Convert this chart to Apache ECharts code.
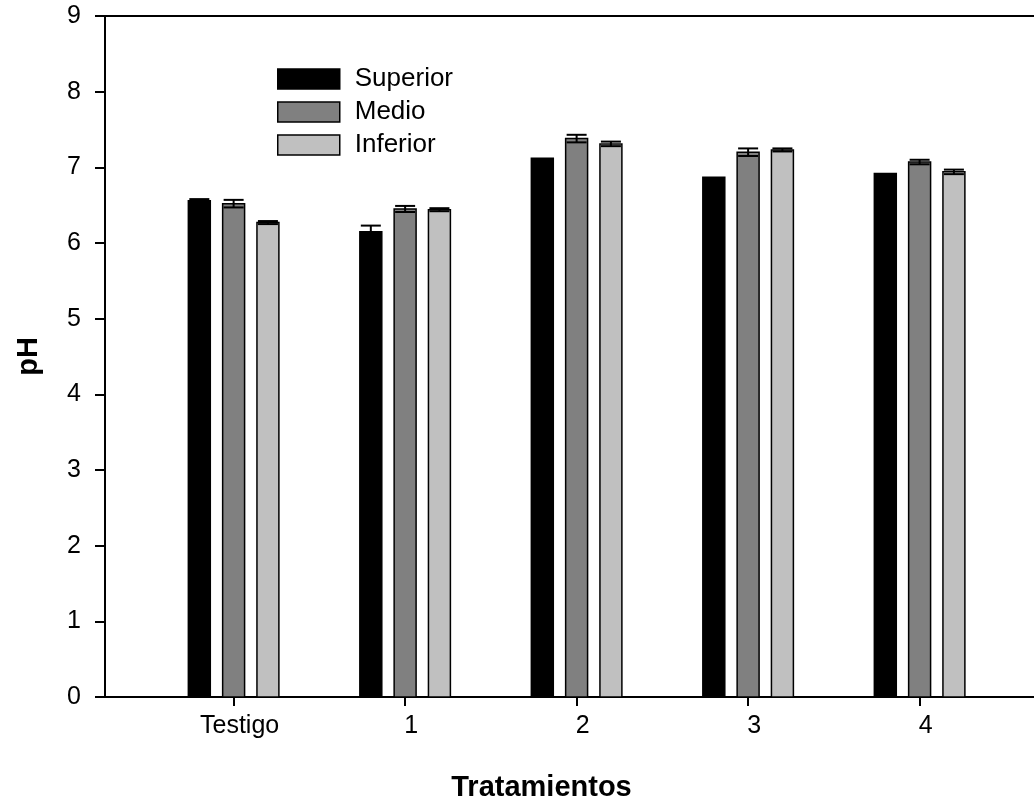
<!DOCTYPE html>
<html>
<head>
<meta charset="utf-8">
<script src="https://cdn.jsdelivr.net/npm/echarts@6/dist/echarts.min.js"></script>
<style>html,body{margin:0;padding:0;background:#fff}#c{width:1034px;height:807px}</style>
</head>
<body>
<div id="c"></div>
<script>
const categories = ['Testigo', '1', '2', '3', '4'];
const superior = [6.56, 6.15, 7.12, 6.87, 6.92];
const superiorErr = [0.02, 0.08, 0, 0, 0];
const medio = [6.52, 6.45, 7.38, 7.20, 7.07];
const medioErr = [0.05, 0.04, 0.05, 0.05, 0.03];
const inferior = [6.27, 6.44, 7.31, 7.23, 6.94];
const inferiorErr = [0.02, 0.02, 0.03, 0.02, 0.03];
const yTicks = [0, 1, 2, 3, 4, 5, 6, 7, 8, 9];

const FONT = 'Liberation Sans';
const BAR_W = 0.128;
const CAP_PX = 20;
const X_MIN = 0.25;
const X_MAX = 5.667;

function makeRender(offset) {
  return function (params, api) {
    const x = api.value(0) + offset;
    const v = api.value(1);
    const e = api.value(2);
    const top = api.coord([x, v]);
    const base = api.coord([x, 0]);
    const w = api.size([BAR_W, 0])[0];
    const style = api.style();
    const children = [{
      type: 'rect',
      shape: { x: top[0] - w / 2, y: top[1], width: w, height: base[1] - top[1] },
      style: { fill: style.fill, stroke: '#000', lineWidth: 1.5 }
    }];
    if (e > 0) {
      const hi = api.coord([x, v + e]);
      const lo = api.coord([x, v - e]);
      const ls = { stroke: '#000', lineWidth: 2 };
      children.push({ type: 'line', shape: { x1: hi[0], y1: hi[1], x2: lo[0], y2: lo[1] }, style: ls });
      children.push({ type: 'line', shape: { x1: hi[0] - CAP_PX / 2, y1: hi[1], x2: hi[0] + CAP_PX / 2, y2: hi[1] }, style: ls });
      children.push({ type: 'line', shape: { x1: lo[0] - CAP_PX / 2, y1: lo[1], x2: lo[0] + CAP_PX / 2, y2: lo[1] }, style: ls });
    }
    return { type: 'group', children };
  };
}

function seriesData(vals, errs) {
  return vals.map((v, i) => [i + 1, v, errs[i]]);
}

const chart = echarts.init(document.getElementById('c'));
chart.setOption({
  animation: false,
  backgroundColor: '#fff',
  textStyle: { fontFamily: FONT, color: '#000' },
  grid: { left: 105, top: 16, right: 0, height: 681 },
  legend: {
    orient: 'vertical',
    left: 277,
    top: 66,
    padding: 0,
    itemWidth: 62,
    itemHeight: 20,
    itemGap: 7,
    textStyle: { fontFamily: FONT, fontSize: 26, color: '#000', padding: [0, 0, 0, 10] },
    data: [
      { name: 'Superior', icon: 'rect', itemStyle: { color: '#000000', borderColor: '#000', borderWidth: 1.5 } },
      { name: 'Medio', icon: 'rect', itemStyle: { color: '#808080', borderColor: '#000', borderWidth: 1.5 } },
      { name: 'Inferior', icon: 'rect', itemStyle: { color: '#c0c0c0', borderColor: '#000', borderWidth: 1.5 } }
    ]
  },
  xAxis: [{
    type: 'value',
    min: X_MIN,
    max: X_MAX,
    position: 'bottom',
    name: 'Tratamientos',
    nameLocation: 'middle',
    nameGap: 76,
    nameTextStyle: { fontFamily: FONT, fontSize: 29, fontWeight: 'bold', color: '#000', padding: [0, 56, 0, 0] },
    axisLine: { show: true, onZero: false, lineStyle: { color: '#000', width: 2 } },
    axisTick: { show: true, inside: false, length: 9, customValues: [1, 2, 3, 4, 5], lineStyle: { color: '#000', width: 2 } },
    axisLabel: {
      customValues: [1, 2, 3, 4, 5],
      formatter: v => categories[Math.round(v) - 1],
      fontFamily: FONT, fontSize: 25, color: '#000', margin: 17, padding: [0, 0, 0, 12]
    },
    splitLine: { show: false }
  }, {
    type: 'value',
    min: X_MIN,
    max: X_MAX,
    position: 'top',
    axisLine: { show: true, onZero: false, lineStyle: { color: '#000', width: 2 } },
    axisTick: { show: false },
    axisLabel: { show: false },
    splitLine: { show: false }
  }],
  yAxis: {
    type: 'value',
    min: yTicks[0],
    max: yTicks[yTicks.length - 1],
    interval: 1,
    name: 'pH',
    nameLocation: 'middle',
    nameGap: 62,
    nameTextStyle: { fontFamily: FONT, fontSize: 29, fontWeight: 'bold', color: '#000' },
    axisLine: { show: true, onZero: false, lineStyle: { color: '#000', width: 2 } },
    axisTick: { show: true, inside: false, length: 10, lineStyle: { color: '#000', width: 2 } },
    axisLabel: { fontFamily: FONT, fontSize: 25, color: '#000', margin: 24 },
    splitLine: { show: false }
  },
  series: [
    { name: 'Superior', type: 'custom', renderItem: makeRender(-0.2), itemStyle: { color: '#000000' }, data: seriesData(superior, superiorErr), encode: { x: 0, y: 1 } },
    { name: 'Medio', type: 'custom', renderItem: makeRender(0), itemStyle: { color: '#808080' }, data: seriesData(medio, medioErr), encode: { x: 0, y: 1 } },
    { name: 'Inferior', type: 'custom', renderItem: makeRender(0.2), itemStyle: { color: '#c0c0c0' }, data: seriesData(inferior, inferiorErr), encode: { x: 0, y: 1 } }
  ]
});
</script>
</body>
</html>
